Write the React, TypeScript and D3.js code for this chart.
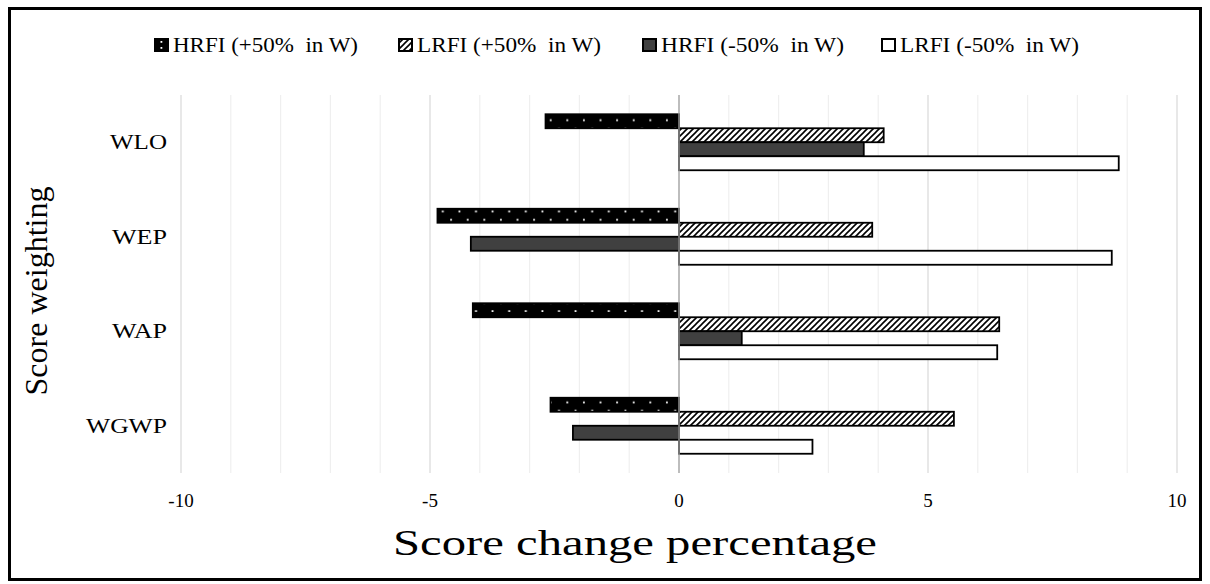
import React from "react";
import * as d3 from "d3";

const categories = ["WLO", "WEP", "WAP", "WGWP"];
const seriesNames = [
  "HRFI (+50%  in W)",
  "LRFI (+50%  in W)",
  "HRFI (-50%  in W)",
  "LRFI (-50%  in W)",
];
const hrfiPlus = [-2.68, -4.85, -4.14, -2.58];
const lrfiPlus = [4.11, 3.88, 6.43, 5.52];
const hrfiMinus = [3.71, -4.18, 1.26, -2.13];
const lrfiMinus = [8.83, 8.69, 6.39, 2.68];
const seriesValues = [hrfiPlus, lrfiPlus, hrfiMinus, lrfiMinus];
const xTicks = [-10, -5, 0, 5, 10];
const xTitle = "Score change percentage";
const yTitle = "Score weighting";

const FONT = "'Liberation Serif', 'Times New Roman', serif";
const fills = ["url(#dots)", "url(#hatch)", "#404040", "#ffffff"];
const legendX = [154, 398, 642, 881];
const legendLen = [185, 184, 183, 179];
const catLen = [57, 55, 55, 81];

export default function App() {
  const W = 1210;
  const H = 584;
  const x = d3.scaleLinear().domain([-10, 10]).range([181, 1177]);
  const y = d3.scaleBand<string>().domain(categories).range([95, 473]).padding(0);
  const bw = y.bandwidth();
  const inner = d3
    .scaleBand<number>()
    .domain([0, 1, 2, 3])
    .range([(bw - 56) / 2, (bw + 56) / 2])
    .padding(0);
  const minor = d3.range(-10, 11, 1);

  return (
    <svg
      width={W}
      height={H}
      style={{ position: "absolute", left: 0, top: 0, background: "#fff" }}
      fontFamily={FONT}
    >
      <defs>
        <pattern id="dots" patternUnits="userSpaceOnUse" width={16.6} height={16.6} x={0} y={0.5}>
          <rect width={16.6} height={16.6} fill="#000" />
          <rect x={2} y={2.6} width={1.8} height={1.8} fill="#fff" />
          <rect x={10.3} y={10.9} width={1.8} height={1.8} fill="#fff" />
        </pattern>
        <pattern id="hatch" patternUnits="userSpaceOnUse" width={6} height={6}>
          <rect width={6} height={6} fill="#fff" />
          <path d="M0,6 L6,0 M-1,1 L1,-1 M5,7 L7,5" stroke="#000" strokeWidth={1.6} />
        </pattern>
      </defs>
      <rect x={0} y={0} width={W} height={H} fill="#fff" />
      <rect x={9.5} y={8.5} width={1191} height={571} fill="none" stroke="#000" strokeWidth={3} />

      {/* gridlines */}
      {minor.map((v) => (
        <line
          key={"g" + v}
          x1={x(v)}
          x2={x(v)}
          y1={95}
          y2={473}
          stroke={v % 5 === 0 ? "#d9d9d9" : "#efefef"}
          strokeWidth={1.2}
        />
      ))}

      {/* bars */}
      {categories.map((c, ci) =>
        seriesValues.map((vals, si) => {
          const v = vals[ci];
          const x0 = x(Math.min(0, v));
          const x1 = x(Math.max(0, v));
          const yy = (y(c) as number) + (inner(si) as number);
          return (
            <rect
              key={c + si}
              x={x0}
              y={yy}
              width={x1 - x0}
              height={inner.bandwidth()}
              fill={fills[si]}
              stroke="#000"
              strokeWidth={1.8}
            />
          );
        })
      )}

      {/* zero axis */}
      <line x1={x(0)} x2={x(0)} y1={95} y2={473} stroke="#a6a6a6" strokeWidth={1.3} />

      {/* category labels */}
      {categories.map((c, i) => (
        <text
          key={c}
          x={167 - catLen[i]}
          y={(y(c) as number) + bw / 2}
          dominantBaseline="central"
          fontSize={21}
          fill="#000"
          textLength={catLen[i]}
          lengthAdjust="spacingAndGlyphs"
        >
          {c}
        </text>
      ))}

      {/* x tick labels */}
      {xTicks.map((t) => (
        <text key={"t" + t} x={x(t)} y={500} textAnchor="middle" dominantBaseline="central" fontSize={19} fill="#000">
          {t}
        </text>
      ))}

      {/* axis titles */}
      <text
        x={393}
        y={543}
        dominantBaseline="central"
        fontSize={36}
        fill="#000"
        textLength={484}
        lengthAdjust="spacingAndGlyphs"
      >
        {xTitle}
      </text>
      <text
        transform={`translate(36,${291}) rotate(-90)`}
        textAnchor="middle"
        dominantBaseline="central"
        fontSize={32}
        fill="#000"
      >
        {yTitle}
      </text>

      {/* legend */}
      {seriesNames.map((s, i) => (
        <g key={s} transform={`translate(${legendX[i]},38)`}>
          {i === 0 ? (
            <g>
              <rect x={0.5} y={0.5} width={14} height={13} fill="#000" stroke="#000" strokeWidth={1} />
              <rect x={6.5} y={3} width={1.8} height={1.8} fill="#fff" />
              <rect x={6.5} y={9} width={1.8} height={1.8} fill="#fff" />
            </g>
          ) : (
            <rect x={1} y={1} width={13} height={12} fill={fills[i]} stroke="#000" strokeWidth={2} />
          )}
          <text
            x={19}
            y={7}
            dominantBaseline="central"
            fontSize={21}
            fill="#000"
            style={{ whiteSpace: "pre" }}
            textLength={legendLen[i]}
            lengthAdjust="spacingAndGlyphs"
          >
            {s}
          </text>
        </g>
      ))}
    </svg>
  );
}
